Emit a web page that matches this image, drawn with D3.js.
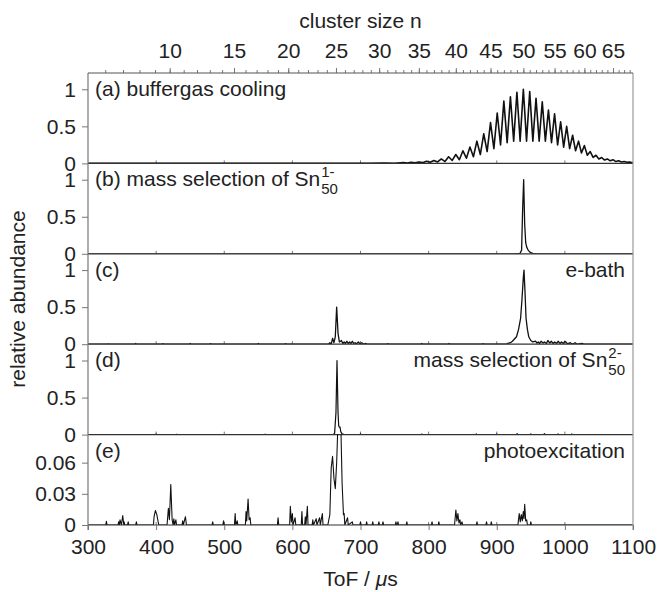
<!DOCTYPE html>
<html>
<head>
<meta charset="utf-8">
<script src="https://cdn.jsdelivr.net/npm/d3@7"></script>
<style>
  body { margin: 0; background: #fff; }
  svg text { font-family: "Liberation Sans", Arial, sans-serif; fill: #222; }
</style>
</head>
<body>
<svg id="chart" width="660" height="592"></svg>
<script>
// panel (a): one peak per cluster size n, with the valley that follows it
const sizesA = [33, 34, 35, 36, 37, 38, 39, 40, 41, 42, 43, 44, 45, 46, 47, 48, 49, 50,
  51, 52, 53, 54, 55, 56, 57, 58, 59, 60, 61, 62, 63, 64, 65, 66, 67, 68];
const peaksA = [0.01, 0.015, 0.02, 0.03, 0.04, 0.06, 0.09, 0.12, 0.17, 0.22, 0.3, 0.4, 0.55, 0.68,
  0.84, 0.9, 0.96, 1.0, 0.97, 0.88, 0.83, 0.72, 0.67, 0.56, 0.5, 0.38, 0.3, 0.24, 0.16, 0.11,
  0.08, 0.06, 0.05, 0.035, 0.025, 0.02];
const valleysA = [0.005, 0.008, 0.01, 0.015, 0.02, 0.025, 0.04, 0.05, 0.07, 0.09, 0.12, 0.16, 0.2,
  0.25, 0.28, 0.3, 0.3, 0.3, 0.3, 0.3, 0.3, 0.28, 0.25, 0.22, 0.2, 0.17, 0.14, 0.11, 0.08, 0.06,
  0.045, 0.035, 0.025, 0.02, 0.015, 0.01];
const baseA = [[300, 0], [680, 0], [700, 0.003], [712, 0], [735, 0.004], [750, 0.002]];

// panels (b)-(e): [ToF in us, relative abundance]
const specB = [[300, 0], [925, 0], [934, 0.005], [936.5, 0.05], [938, 0.6], [939.5, 1.0], [941, 0.4],
  [942.5, 0.15], [944, 0.09], [946, 0.05], [949, 0.02], [953, 0.005], [960, 0], [1100, 0]];

const specC = [[300, 0], [329, 0], [330, 0.005], [331, 0], [369, 0], [370, 0.01], [371, 0], [409, 0],
  [410, 0.008], [411, 0], [449, 0], [450, 0.01], [451, 0], [479, 0], [480, 0.008], [481, 0],
  [549, 0], [550, 0.01], [551, 0], [589, 0], [590, 0.008], [591, 0], [653, 0], [655, 0.02],
  [657, 0], [659, 0.08], [661, 0.02], [663, 0.1], [665, 0.5], [667, 0.15], [669, 0.03],
  [672, 0.05], [674, 0.01], [676, 0.03], [678, 0.01], [680, 0.04], [682, 0.01], [684, 0.03],
  [686, 0.01], [688, 0.04], [690, 0.01], [692, 0.02], [694, 0.005], [697, 0.03], [699, 0.005],
  [702, 0.02], [705, 0], [708, 0.01], [710, 0], [739, 0], [740, 0.008], [741, 0], [789, 0],
  [790, 0.01], [791, 0], [829, 0], [830, 0.01], [831, 0], [879, 0], [880, 0.008], [881, 0],
  [914, 0], [916, 0.01], [920, 0.02], [923, 0.04], [926, 0.07], [929, 0.1], [932, 0.2],
  [935, 0.35], [937, 0.6], [939, 0.9], [940, 1.0], [941.5, 0.7], [943, 0.35], [945, 0.2],
  [947, 0.1], [950, 0.05], [953, 0.03], [957, 0.04], [959, 0.015], [961, 0.03], [963, 0.01],
  [965, 0.04], [968, 0.015], [970, 0.03], [973, 0.01], [975, 0.05], [978, 0.015], [980, 0.04],
  [983, 0.01], [985, 0.03], [988, 0.01], [990, 0.04], [993, 0.01], [995, 0.03], [998, 0.01],
  [1000, 0.04], [1004, 0.005], [1008, 0.02], [1011, 0], [1015, 0.02], [1018, 0], [1025, 0.01],
  [1028, 0], [1100, 0]];

const specD = [[300, 0], [399, 0], [400, 0.008], [401, 0], [429, 0], [430, 0.005], [431, 0],
  [559, 0], [560, 0.005], [561, 0], [660, 0], [662, 0.02], [664, 0.3], [665.5, 1.0], [667, 0.3],
  [668, 0.12], [669, 0.1], [670, 0.1], [671, 0.04], [673, 0.01], [676, 0], [699, 0],
  [700, 0.01], [701, 0], [789, 0], [790, 0.008], [791, 0], [869, 0], [870, 0.01], [871, 0],
  [899, 0], [900, 0.008], [901, 0], [929, 0], [930, 0.012], [931, 0], [949, 0], [950, 0.01],
  [951, 0], [969, 0], [970, 0.012], [971, 0], [989, 0], [990, 0.01], [991, 0], [1009, 0],
  [1010, 0.008], [1011, 0], [1100, 0]];

const specE = [[300, 0], [326, 0], [327, 0.0035], [328, 0], [344, 0], [345, 0.003], [346, 0],
  [347, 0.005], [349, 0], [351, 0.009], [352.5, 0], [353, 0.003], [354, 0], [358, 0],
  [359, 0.003], [360, 0], [370, 0], [371, 0.003], [372, 0], [396, 0], [397, 0.008],
  [399, 0.014], [401, 0.01], [403, 0.003], [404, 0], [416, 0], [418, 0.016], [419.5, 0.005],
  [421.5, 0.039], [423.5, 0.005], [425, 0], [426, 0.006], [427, 0], [429, 0.005], [430, 0],
  [438, 0], [439, 0.004], [440, 0], [443, 0.008], [444.5, 0], [482, 0], [483, 0.003], [484, 0],
  [498, 0], [499, 0.004], [500, 0], [515, 0], [516, 0.011], [517, 0], [519, 0.004], [520, 0],
  [531, 0], [532, 0.013], [533, 0.004], [535, 0.025], [536.5, 0.005], [538, 0.007], [539, 0],
  [578, 0], [579, 0.007], [580, 0], [596, 0], [597, 0.018], [598.5, 0.003], [600, 0.011],
  [601, 0], [604, 0.007], [605, 0], [613, 0], [614, 0.013], [615, 0], [618, 0], [619, 0.008],
  [620, 0], [622, 0.018], [623, 0], [629, 0], [630, 0.005], [631, 0], [635, 0.006], [636, 0],
  [640, 0.007], [641, 0], [644, 0.011], [645, 0], [652, 0], [655, 0.01], [657, 0.055],
  [659, 0.066], [661, 0.045], [663, 0.035], [665, 0.06], [667, 0.1], [671, 0.1], [673, 0.04],
  [675, 0.01], [676, 0.011], [677, 0], [681, 0.007], [682, 0], [688, 0.003], [689, 0],
  [699, 0], [700, 0.003], [701, 0], [708, 0], [709, 0.003], [710, 0], [717, 0], [718, 0.003],
  [719, 0], [726, 0], [727, 0.003], [728, 0], [732, 0], [733, 0.003], [734, 0], [751, 0],
  [752, 0.003], [753, 0], [754, 0], [755, 0.003], [756, 0], [767, 0], [768, 0.003], [769, 0],
  [804, 0], [805, 0.003], [806, 0], [814, 0], [815, 0.003], [816, 0], [838, 0], [840, 0.0145],
  [841.5, 0.004], [843, 0.011], [844.5, 0.002], [846, 0.005], [847, 0], [849, 0.003], [850, 0],
  [870, 0], [871, 0.003], [872, 0], [884, 0], [885, 0.003], [886, 0], [891, 0], [892, 0.003],
  [893, 0], [931, 0], [933, 0.011], [934.5, 0.003], [936, 0.01], [937.5, 0.004], [939, 0.013],
  [940, 0.006], [941, 0.02], [942.5, 0.004], [944, 0.005], [945, 0], [949, 0], [950, 0.003],
  [951, 0], [1100, 0]];

// top axis: cluster size n, ToF grows with sqrt(n)
const sizeLabels = [10, 15, 20, 25, 30, 35, 40, 45, 50, 55, 60, 65];
const sizeMinor = [6, 7, 8, 9, 10, 11, 12, 13, 14, 15, 16, 17, 18, 19, 20, 21, 22, 23, 24, 25, 26,
  27, 28, 29, 30, 31, 32, 33, 34, 35, 36, 37, 38, 39, 40, 41, 42, 43, 44, 45, 46, 47, 48, 49, 50,
  51, 52, 53, 54, 55, 56, 57, 58, 59, 60, 61, 62, 63, 64, 65, 66, 67, 68];
const tofPerSqrtN = 132.8;
const tofTicks = [300, 400, 500, 600, 700, 800, 900, 1000, 1100];

const svg = d3.select('#chart');
const plotTop = 73, plotBottom = 525, plotLeft = 88, plotRight = 633;
const panelH = (plotBottom - plotTop) / 5;
const fontFamily = '"Liberation Sans", Arial, sans-serif';

const x = d3.scaleLinear().domain([300, 1100]).range([plotLeft, plotRight]);
const tofOfN = d3.scalePow().exponent(0.5).domain([0, 1]).range([0, tofPerSqrtN]);
const xN = d3.scalePow().exponent(0.5).domain([0, 1]).range([x(0), x(tofPerSqrtN)]);

const specA = baseA.slice();
sizesA.forEach((n, i) => {
  specA.push([tofOfN(n), peaksA[i]]);
  specA.push([tofOfN(n + 0.5), valleysA[i]]);
});
specA.push([1100, 0.01]);

const panels = [
  { key: 'a', data: specA, yMax: 1.22, ticks: [0, 0.5, 1], fmt: d => d, left: '(a) buffergas cooling', width: 1.6 },
  { key: 'b', data: specB, yMax: 1.22, ticks: [0, 0.5, 1], fmt: d => d, left: '(b) mass selection of Sn', leftSup: '1-', leftSub: '50', width: 1.3 },
  { key: 'c', data: specC, yMax: 1.22, ticks: [0, 0.5, 1], fmt: d => d, left: '(c)', right: 'e-bath', width: 1.3 },
  { key: 'd', data: specD, yMax: 1.22, ticks: [0, 0.5, 1], fmt: d => d, left: '(d)', right: 'mass selection of Sn', rightSup: '2-', rightSub: '50', width: 1.2 },
  { key: 'e', data: specE, yMax: 0.087, ticks: [0, 0.03, 0.06], fmt: d => d === 0 ? '0' : d3.format('.2f')(d), left: '(e)', right: 'photoexcitation', width: 1.1 }
];

const defs = svg.append('defs');

panels.forEach((p, i) => {
  const top = plotTop + i * panelH;
  const bottom = top + panelH;
  const y = d3.scaleLinear().domain([0, p.yMax]).range([bottom, top]);

  defs.append('clipPath').attr('id', 'clip-' + p.key)
    .append('rect').attr('x', plotLeft).attr('y', top).attr('width', plotRight - plotLeft).attr('height', panelH);

  // inner ticks on the zero line
  svg.append('g')
    .selectAll('line')
    .data(tofTicks.slice(1, -1))
    .join('line')
    .attr('x1', d => x(d)).attr('x2', d => x(d))
    .attr('y1', bottom).attr('y2', bottom - 3)
    .attr('stroke', '#777').attr('stroke-width', 1);

  // left axis
  const ax = svg.append('g')
    .attr('transform', `translate(${plotLeft},0)`)
    .call(d3.axisLeft(y).tickValues(p.ticks).tickFormat(p.fmt).tickSize(6).tickPadding(6));
  ax.select('.domain').remove();
  ax.selectAll('.tick line').attr('stroke', '#777');
  ax.selectAll('.tick text').attr('font-size', 21).attr('font-family', fontFamily).attr('fill', '#222');

  // spectrum
  svg.append('path')
    .datum(p.data)
    .attr('clip-path', `url(#clip-${p.key})`)
    .attr('fill', 'none')
    .attr('stroke', '#111')
    .attr('stroke-width', p.width)
    .attr('stroke-linejoin', 'round')
    .attr('d', d3.line().x(d => x(d[0])).y(d => y(d[1])));

  // zero line
  svg.append('line')
    .attr('x1', plotLeft).attr('x2', plotRight)
    .attr('y1', bottom).attr('y2', bottom)
    .attr('stroke', '#333').attr('stroke-width', 1.2);

  // labels
  const base = top + 23;
  const lt = svg.append('text').attr('x', 95).attr('y', base).attr('font-size', 21).text(p.left);
  if (p.leftSup) {
    const end = 95 + lt.node().getComputedTextLength() + 1;
    svg.append('text').attr('x', end).attr('y', base - 9).attr('font-size', 15).text(p.leftSup);
    svg.append('text').attr('x', end).attr('y', base + 8).attr('font-size', 15).text(p.leftSub);
  }
  if (p.right) {
    let rx = plotRight - 8;
    if (p.rightSup) {
      const sub = svg.append('text').attr('y', base + 8).attr('font-size', 15).text(p.rightSub);
      const w = sub.node().getComputedTextLength();
      sub.attr('x', rx - w);
      svg.append('text').attr('x', rx - w).attr('y', base - 9).attr('font-size', 15).text(p.rightSup);
      rx = rx - w - 1;
    }
    svg.append('text').attr('x', rx).attr('y', base).attr('text-anchor', 'end').attr('font-size', 21).text(p.right);
  }
});

// frame: left axis line, right border
svg.append('line').attr('x1', plotLeft).attr('x2', plotLeft).attr('y1', plotTop).attr('y2', plotBottom + 5)
  .attr('stroke', '#777').attr('stroke-width', 1.2);
svg.append('line').attr('x1', plotRight).attr('x2', plotRight).attr('y1', plotTop).attr('y2', plotBottom + 5)
  .attr('stroke', '#999').attr('stroke-width', 1.2);

// bottom axis
const bx = svg.append('g')
  .attr('transform', `translate(0,${plotBottom})`)
  .call(d3.axisBottom(x).tickValues(tofTicks).tickFormat(d3.format('d')).tickSize(5).tickPadding(9));
bx.select('.domain').remove();
bx.selectAll('.tick line').attr('stroke', '#777');
bx.selectAll('.tick text').attr('font-size', 21).attr('font-family', fontFamily).attr('fill', '#222');

// top axis: cluster size
const tx = svg.append('g')
  .attr('transform', `translate(0,${plotTop})`)
  .call(d3.axisTop(xN).tickValues(sizeMinor).tickFormat('').tickSize(3));
tx.select('.domain').remove();
tx.selectAll('.tick line').attr('stroke', '#777');
const tx2 = svg.append('g')
  .attr('transform', `translate(0,${plotTop})`)
  .call(d3.axisTop(xN).tickValues(sizeLabels).tickFormat(d3.format('d')).tickSize(5).tickPadding(10));
tx2.select('.domain').remove();
tx2.selectAll('.tick line').attr('stroke', '#777');
tx2.selectAll('.tick text').attr('font-size', 21).attr('font-family', fontFamily).attr('fill', '#222');
svg.append('line').attr('x1', plotLeft).attr('x2', plotRight).attr('y1', plotTop).attr('y2', plotTop)
  .attr('stroke', '#555').attr('stroke-width', 1.2);

// axis titles
svg.append('text').attr('x', (plotLeft + plotRight) / 2).attr('y', 28).attr('text-anchor', 'middle')
  .attr('font-size', 21).text('cluster size n');
const xt = svg.append('text').attr('x', (plotLeft + plotRight) / 2).attr('y', 586).attr('text-anchor', 'middle')
  .attr('font-size', 21);
xt.append('tspan').text('ToF / ');
xt.append('tspan').attr('font-style', 'italic').text('μ');
xt.append('tspan').text('s');
svg.append('text').attr('transform', `translate(25,${(plotTop + plotBottom) / 2}) rotate(-90)`)
  .attr('text-anchor', 'middle').attr('font-size', 21).text('relative abundance');
</script>
</body>
</html>
